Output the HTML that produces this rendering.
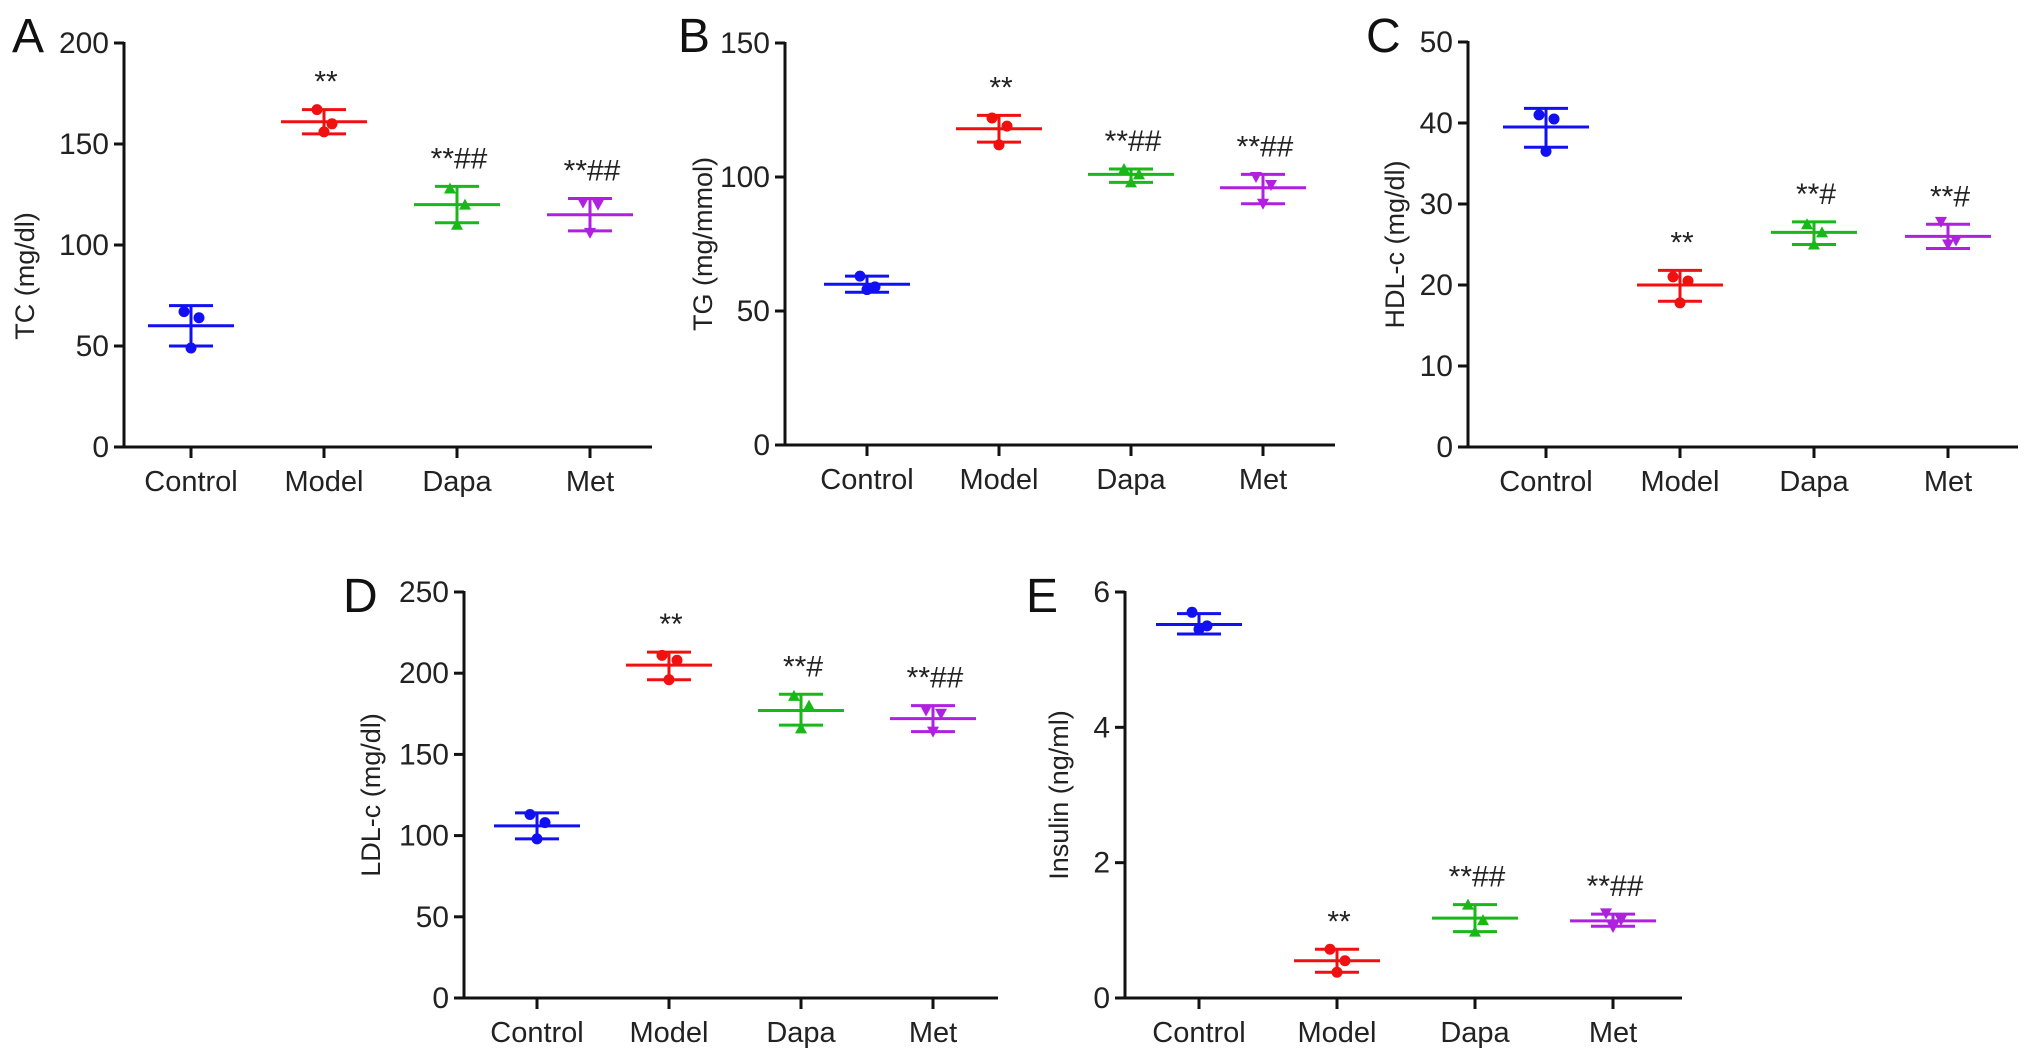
<!DOCTYPE html>
<html><head><meta charset="utf-8"><style>
html,body{margin:0;padding:0;background:#fff;}
svg{display:block;font-family:"Liberation Sans",Arial,sans-serif;}
</style></head><body>
<svg id="fig" width="2032" height="1060" viewBox="0 0 2032 1060"></svg>
<script>
const categories = ["Control","Model","Dapa","Met"];
const colors = ["#1010f0","#f01010","#18b818","#b020e0"];
// Panel A: TC
const aMean = [60,161,120,115];
const aHi = [70,167,129,123];
const aLo = [50,155,111,107];
const aPts = [[67,64,49],[167,160,156],[128,120,110],[121,120,106]];
const aTicks = [0,50,100,150,200];
const aNotes = ["","**","**##","**##"];
// Panel B: TG
const bMean = [60,118,101,96];
const bHi = [63,123,103,101];
const bLo = [57,113,98,90];
const bPts = [[63,59,58],[122,119,112],[103,101,98],[100,97,90]];
const bTicks = [0,50,100,150];
const bNotes = ["","**","**##","**##"];
// Panel C: HDL-c
const cMean = [39.5,20,26.5,26];
const cHi = [41.8,21.8,27.8,27.5];
const cLo = [37,18,25,24.5];
const cPts = [[41,40.5,36.5],[21,20.5,17.8],[27.5,26.5,25],[27.8,25.5,25]];
const cTicks = [0,10,20,30,40,50];
const cNotes = ["","**","**#","**#"];
// Panel D: LDL-c
const dMean = [106,205,177,172];
const dHi = [114,213,187,180];
const dLo = [98,196,168,164];
const dPts = [[113,108,98],[211,208,196],[186,180,166],[177,175,164]];
const dTicks = [0,50,100,150,200,250];
const dNotes = ["","**","**#","**##"];
// Panel E: Insulin
const eMean = [5.52,0.55,1.18,1.14];
const eHi = [5.68,0.72,1.38,1.24];
const eLo = [5.38,0.38,0.98,1.06];
const ePts = [[5.7,5.5,5.45],[0.72,0.55,0.38],[1.38,1.15,0.98],[1.25,1.15,1.05]];
const eTicks = [0,2,4,6];
const eNotes = ["","**","**##","**##"];

const NS="http://www.w3.org/2000/svg";
const svg=document.getElementById('fig');
function mk(tag,attrs,parent,text){const e=document.createElementNS(NS,tag);for(const k in attrs)e.setAttribute(k,attrs[k]);if(text!==undefined)e.textContent=text;(parent||svg).appendChild(e);return e;}

function panel(cfg){
  const g=mk('g',{});
  
  
  const ymax=cfg.ticks[cfg.ticks.length-1];
  const yS=v=>cfg.y0-(v/ymax)*(cfg.y0-cfg.yTop);
  const xS=i=>cfg.cx0+i*cfg.step;
  const L=mk('text',{x:cfg.lx,y:cfg.ly,'font-size':48,fill:'#111'},g,cfg.letter);
  
  
  const ya=mk('line',{x1:cfg.ax,y1:yS(ymax)-1,x2:cfg.ax,y2:cfg.y0,stroke:'#111','stroke-width':3},g);
  
  
  const xa=mk('line',{x1:cfg.ax-10,y1:cfg.y0,x2:cfg.xEnd,y2:cfg.y0,stroke:'#111','stroke-width':3},g);
  
  
  cfg.ticks.forEach(t=>{
    const y=yS(t);
    mk('line',{x1:cfg.ax-10,y1:y,x2:cfg.ax,y2:y,stroke:'#111','stroke-width':3},g);
    const tl=mk('text',{x:cfg.ax-15,y:y+10,'font-size':30,'text-anchor':'end',fill:'#222'},g,String(t));
    
    
  });
  const yt=mk('text',{x:0,y:0,'font-size':27,'text-anchor':'middle',fill:'#222',transform:`translate(${cfg.tx},${cfg.tyc||(cfg.yTop+cfg.y0)/2}) rotate(-90)`},g,cfg.title);
  
  
  categories.forEach((c,i)=>{
    const x=xS(i), col=colors[i];
    mk('line',{x1:x,y1:cfg.y0,x2:x,y2:cfg.y0+11,stroke:'#111','stroke-width':3},g);
    const xl=mk('text',{x:x,y:cfg.y0+44,'font-size':29,'text-anchor':'middle',fill:'#222'},g,c);
    
    
    const grp=mk('g',{},g);
    
    
    const yh=yS(cfg.hi[i]), yl=yS(cfg.lo[i]), ym=yS(cfg.mean[i]);
    mk('line',{x1:x,y1:yh,x2:x,y2:yl,stroke:col,'stroke-width':3},grp);
    mk('line',{x1:x-22,y1:yh,x2:x+22,y2:yh,stroke:col,'stroke-width':3},grp);
    mk('line',{x1:x-22,y1:yl,x2:x+22,y2:yl,stroke:col,'stroke-width':3},grp);
    const ml=mk('line',{x1:x-43,y1:ym,x2:x+43,y2:ym,stroke:col,'stroke-width':3},grp);
    
    
    const jit=[-7,8,0];
    cfg.pts[i].forEach((v,k)=>{
      const px=x+jit[k], py=yS(v);
      let p;
      if(i<2) p=mk('circle',{cx:px,cy:py,r:5.5,fill:col},grp);
      else if(i===2) p=mk('polygon',{points:`${px},${py-6} ${px-6},${py+5} ${px+6},${py+5}`,fill:col},grp);
      else p=mk('polygon',{points:`${px},${py+6} ${px-6},${py-5} ${px+6},${py-5}`,fill:col},grp);
      
      
    });
    if(cfg.notes[i]){
      const n=mk('text',{x:x+2,y:yh-18,'font-size':30,'text-anchor':'middle',fill:'#222'},g,cfg.notes[i]);
      
      
    }
  });
}
panel({letter:'A',lx:12,ly:52,ax:124,yTop:43,y0:447,xEnd:652,cx0:191,step:133,tx:34,tyc:276,title:'TC (mg/dl)',ticks:aTicks,mean:aMean,hi:aHi,lo:aLo,pts:aPts,notes:aNotes});
panel({letter:'B',lx:678,ly:52,ax:785,yTop:43,y0:445,xEnd:1335,cx0:867,step:132,tx:712,title:'TG (mg/mmol)',ticks:bTicks,mean:bMean,hi:bHi,lo:bLo,pts:bPts,notes:bNotes});
panel({letter:'C',lx:1366,ly:52,ax:1468,yTop:42,y0:447,xEnd:2018,cx0:1546,step:134,tx:1404,title:'HDL-c (mg/dl)',ticks:cTicks,mean:cMean,hi:cHi,lo:cLo,pts:cPts,notes:cNotes});
panel({letter:'D',lx:343,ly:612,ax:464,yTop:592,y0:998,xEnd:998,cx0:537,step:132,tx:380,title:'LDL-c (mg/dl)',ticks:dTicks,mean:dMean,hi:dHi,lo:dLo,pts:dPts,notes:dNotes});
panel({letter:'E',lx:1026,ly:612,ax:1125,yTop:592,y0:998,xEnd:1682,cx0:1199,step:138,tx:1068,title:'Insulin (ng/ml)',ticks:eTicks,mean:eMean,hi:eHi,lo:eLo,pts:ePts,notes:eNotes});
</script>
</body></html>
